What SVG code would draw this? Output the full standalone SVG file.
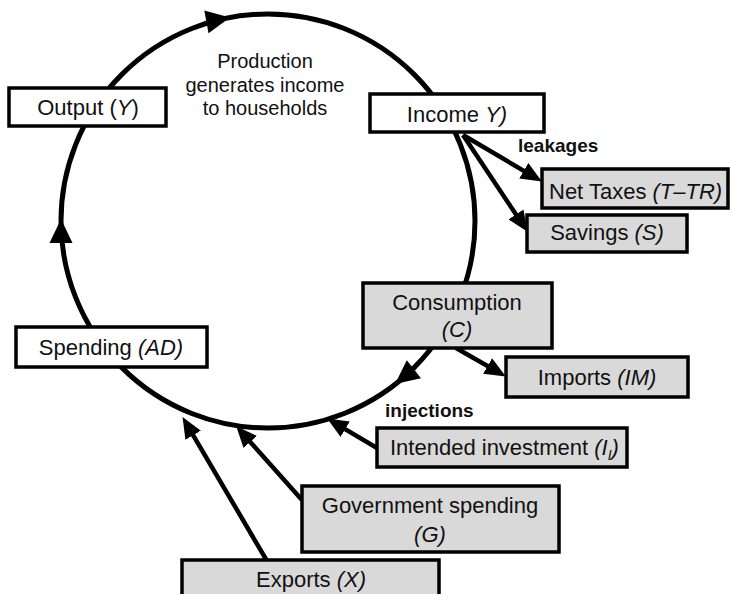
<svg xmlns="http://www.w3.org/2000/svg" width="730" height="594" viewBox="0 0 730 594">
<style>
text{font-family:"Liberation Sans",Arial,sans-serif;fill:#111}
.lbl{font-size:22px;text-anchor:middle}
.note{font-size:20px;text-anchor:middle}
.bold{font-size:19px;font-weight:bold}
.it{font-style:italic}
.box{stroke:#000;stroke-width:3.5}
.w{fill:#fff}
.g{fill:#d9d9d9}
.flow{fill:none;stroke:#000;stroke-width:5}
.arr{fill:none;stroke:#000;stroke-width:4.5}
</style>
<defs>
<marker id="m" markerUnits="userSpaceOnUse" markerWidth="22" markerHeight="18" refX="10" refY="9" orient="auto">
<path d="M0,0 L21,9 L0,18 Z" fill="#000"/>
</marker>
<path id="ah" d="M0,0 L-24,-11.5 L-24,11.5 Z" fill="#000"/>
</defs>
<g id="connectors">
<circle class="flow" cx="268" cy="221" r="207"/>
<use href="#ah" transform="translate(230,17.5) rotate(-10.6)"/>
<use href="#ah" transform="translate(61,219) rotate(-90)"/>
<use href="#ah" transform="translate(395,384) rotate(142)"/>
<line class="arr" x1="463" y1="135" x2="532.4" y2="175.9" marker-end="url(#m)"/>
<line class="arr" x1="463" y1="135" x2="521.5" y2="222.7" marker-end="url(#m)"/>
<line class="arr" x1="456" y1="348" x2="496.3" y2="371" marker-end="url(#m)"/>
<line class="arr" x1="377" y1="448" x2="336.6" y2="424.1" marker-end="url(#m)"/>
<line class="arr" x1="302" y1="500" x2="243.6" y2="434.5" marker-end="url(#m)"/>
<line class="arr" x1="267" y1="561" x2="188.1" y2="426.6" marker-end="url(#m)"/>
</g>
<g id="production-note">
<text class="note" x="265" y="68">Production</text>
<text class="note" x="265" y="92">generates income</text>
<text class="note" x="265" y="115">to households</text>
</g>
<g id="leakages-label"><text class="bold" x="518" y="152">leakages</text></g>
<g id="injections-label"><text class="bold" x="385" y="417">injections</text></g>
<g id="output">
<rect class="box w" x="9" y="88" width="157" height="38"/>
<text class="lbl" x="88" y="115">Output (<tspan class="it">Y</tspan>)</text>
</g>
<g id="income">
<rect class="box w" x="370" y="94" width="174" height="38"/>
<text class="lbl" x="457" y="122">Income <tspan class="it">Y)</tspan></text>
</g>
<g id="net-taxes">
<rect class="box g" x="542" y="169" width="186" height="39"/>
<text class="lbl" x="549" y="199" style="text-anchor:start">Net Taxes <tspan class="it">(T–TR)</tspan></text>
</g>
<g id="savings">
<rect class="box g" x="527" y="215" width="160" height="37"/>
<text class="lbl" x="607" y="240">Savings <tspan class="it">(S)</tspan></text>
</g>
<g id="spending">
<rect class="box w" x="16" y="327" width="191" height="40"/>
<text class="lbl" x="111" y="355">Spending <tspan class="it">(AD)</tspan></text>
</g>
<g id="consumption">
<rect class="box g" x="363" y="283" width="189" height="65"/>
<text class="lbl" x="457" y="310">Consumption</text>
<text class="lbl it" x="457" y="337">(C)</text>
</g>
<g id="imports">
<rect class="box g" x="506" y="357" width="182" height="40"/>
<text class="lbl" x="597" y="385">Imports <tspan class="it">(IM)</tspan></text>
</g>
<g id="intended-investment">
<rect class="box g" x="377" y="428" width="250" height="39"/>
<text class="lbl" x="390" y="455" style="text-anchor:start">Intended investment <tspan class="it">(I<tspan font-size="14" dy="5">I</tspan><tspan dy="-5">)</tspan></tspan></text>
</g>
<g id="government-spending">
<rect class="box g" x="302" y="486" width="257" height="66"/>
<text class="lbl" x="430" y="513">Government spending</text>
<text class="lbl it" x="430" y="542">(G)</text>
</g>
<g id="exports">
<rect class="box g" x="182" y="560" width="257" height="50"/>
<text class="lbl" x="311" y="587">Exports <tspan class="it">(X)</tspan></text>
</g>
</svg>
